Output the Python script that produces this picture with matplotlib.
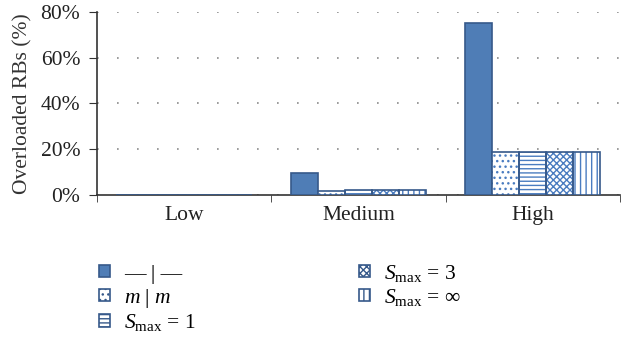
import numpy as np
import matplotlib
matplotlib.use("Agg")
import matplotlib.pyplot as plt
from matplotlib.patches import Patch

plt.rcParams["font.family"] = ["Liberation Serif", "DejaVu Serif"]
plt.rcParams["mathtext.fontset"] = "custom"
plt.rcParams["mathtext.rm"] = "Liberation Serif"
plt.rcParams["mathtext.it"] = "Liberation Serif:italic"
plt.rcParams["hatch.linewidth"] = 1.0

# load levels and percentage of overloaded RBs per scheme
categories = ["Low", "Medium", "High"]
scheme_labels = ["— | —", "$m$ | $m$", "$S_{\\mathrm{max}}$ = 1",
                 "$S_{\\mathrm{max}}$ = 3", "$S_{\\mathrm{max}}$ = ∞"]
values = [
    [0.0, 9.7, 75.0],   # — | —
    [0.0, 1.7, 18.8],   # m | m
    [0.0, 2.2, 18.8],   # Smax = 1
    [0.0, 2.3, 18.8],   # Smax = 3
    [0.0, 2.3, 18.8],   # Smax = inf
]
y_ticks = [0, 20, 40, 60, 80]

fill_blue = "#4f7db6"
edge_blue = "#36598a"
hatch_blue = "#4a7cc0"
hatches = [None, "...", "----", "xxxxx", "|||"]
fs = 15.5

fig = plt.figure(figsize=(6.25, 3.41), dpi=100)
ax = fig.add_axes([0.155, 0.428, 0.837, 0.537])

x = np.arange(len(categories))
n = len(values)
width = 0.776 / n
handles = []
for i, (vals, lab, h) in enumerate(zip(values, scheme_labels, hatches)):
    pos = x - 0.776 / 2 + width * (i + 0.5)
    if h is None:
        ax.bar(pos, vals, width, color=fill_blue, edgecolor=edge_blue,
               linewidth=1.2, zorder=3)
        handles.append(Patch(facecolor=fill_blue, edgecolor=edge_blue,
                             linewidth=1.2, label=lab))
    else:
        ax.bar(pos, vals, width, color="white", edgecolor=hatch_blue,
               hatch=h, linewidth=0, zorder=3)
        ax.bar(pos, vals, width, fill=False, edgecolor=edge_blue,
               linewidth=1.2, zorder=4)
        handles.append(Patch(facecolor="white", edgecolor=edge_blue,
                             hatch=h, linewidth=1.2, label=lab))

ax.set_xlim(-0.5, len(categories) - 0.5)
ax.set_ylim(0, 80)
ax.set_yticks(y_ticks)
ax.set_yticklabels(["%d%%" % t for t in y_ticks])
ax.set_xticks(x)
ax.set_xticklabels(categories, fontsize=fs, color="#222222")
ax.set_xticks(np.arange(len(categories) + 1) - 0.5, minor=True)
ax.tick_params(axis="x", which="major", length=0, pad=8)
ax.tick_params(axis="x", which="minor", length=5, direction="out", color="#333333")
ax.tick_params(axis="y", labelsize=fs, labelcolor="#222222", length=6,
               pad=6, direction="out", color="#333333")
ax.set_ylabel("Overloaded RBs (%)", fontsize=fs, color="#333333", labelpad=6)

ax.yaxis.grid(True, color="#8a8a8a", linestyle=(0, (1, 11)), linewidth=1.2, zorder=0)
ax.set_axisbelow(True)
for side in ["top", "right"]:
    ax.spines[side].set_visible(False)
for side in ["left", "bottom"]:
    ax.spines[side].set_color("#333333")
    ax.spines[side].set_linewidth(1.2)

fig.legend(handles=handles, ncol=2, loc="upper left",
           bbox_to_anchor=(0.135, 0.273), frameon=False, fontsize=fs,
           handlelength=0.5, handleheight=0.5, columnspacing=7.6,
           labelspacing=0.12, handletextpad=0.65, borderpad=0.2)

fig.savefig("out.png", dpi=100)
